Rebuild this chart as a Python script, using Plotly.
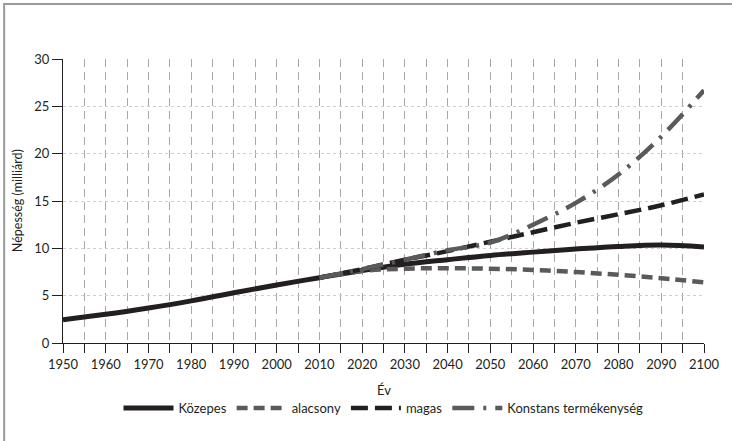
import plotly.graph_objects as go

hist_years = [1950, 1960, 1970, 1980, 1990, 2000, 2010]
proj_years = [2010, 2020, 2030, 2040, 2050, 2060, 2070, 2080, 2090, 2100]

kozepes_hist = [2.45, 3.03, 3.70, 4.45, 5.31, 6.12, 6.90]
kozepes = [6.90, 7.66, 8.32, 8.80, 9.25, 9.60, 9.92, 10.20, 10.35, 10.15]
alacsony = [6.90, 7.60, 7.85, 7.90, 7.85, 7.72, 7.50, 7.20, 6.85, 6.40]
magas = [6.90, 7.80, 8.80, 9.70, 10.70, 11.70, 12.70, 13.60, 14.55, 15.70]
konstans = [6.90, 7.80, 8.80, 9.80, 10.60, 12.50, 14.80, 17.80, 21.80, 26.70]

grid_years = list(range(1950, 2101, 5))
tick_text = [str(y) if y % 10 == 0 else "" for y in grid_years]

BLACK = "#231f20"
GRAY = "#5a5a5c"
FONT = "Lato"

fig = go.Figure()
fig.add_trace(go.Scatter(
    x=hist_years + proj_years[1:], y=kozepes_hist + kozepes[1:], name="Közepes",
    mode="lines", line=dict(color=BLACK, width=5, shape="spline"),
))
fig.add_trace(go.Scatter(
    x=proj_years, y=alacsony, name="alacsony", mode="lines",
    line=dict(color=GRAY, width=4.5, dash="11px,6px", shape="spline"),
))
fig.add_trace(go.Scatter(
    x=proj_years, y=magas, name="magas", mode="lines",
    line=dict(color=BLACK, width=4.5, dash="17px,7px", shape="spline"),
))
fig.add_trace(go.Scatter(
    x=proj_years, y=konstans, name="Konstans termékenység", mode="lines",
    line=dict(color=GRAY, width=4.5, dash="22px,9px,3px,9px", shape="spline"),
))

# frame round the figure (only top and left edges fall inside the picture)
fig.add_shape(type="rect", xref="paper", yref="paper", x0=-0.0918, x1=1.06,
              y0=-0.36, y1=1.1937, line=dict(color="#9a9a9a", width=2),
              fillcolor="rgba(0,0,0,0)", layer="above")

fig.add_annotation(xref="paper", yref="paper", x=0.5, y=-0.166, text="Év",
                   showarrow=False, yanchor="middle", font=dict(size=13, color=BLACK))
fig.add_annotation(xref="paper", yref="paper", x=-0.0715, y=0.5, text="Népesség (milliárd)",
                   showarrow=False, textangle=-90, xanchor="center", yanchor="middle",
                   font=dict(size=12.5, color=BLACK))

fig.update_xaxes(
    range=[1950, 2100], tickmode="array", tickvals=grid_years, ticktext=tick_text,
    ticks="outside", ticklen=9, tickcolor=BLACK, tickwidth=1,
    showline=True, linecolor=BLACK, linewidth=1.3,
    showgrid=True, gridcolor="#a8a8a8", gridwidth=1, griddash="8px,5px",
    zeroline=False, tickfont=dict(size=13, color=BLACK),
)
fig.update_yaxes(
    range=[0, 30], tickmode="array", tickvals=[0, 5, 10, 15, 20, 25, 30],
    ticks="outside", ticklen=10, tickcolor=BLACK, tickwidth=1,
    showline=True, linecolor=BLACK, linewidth=1.3,
    showgrid=True, gridcolor="#cfcfcf", gridwidth=1, griddash="3px,3px",
    zeroline=False, tickfont=dict(size=13, color=BLACK),
)
fig.update_layout(
    width=732, height=441,
    margin=dict(l=63, r=26, t=59, b=98),
    paper_bgcolor="white", plot_bgcolor="white",
    font=dict(family=FONT, color=BLACK),
    showlegend=True,
    legend=dict(orientation="h", x=0.5, xanchor="center", y=-0.229, yanchor="middle",
                font=dict(size=13, color=BLACK), itemwidth=50, tracegroupgap=0),
)
fig.write_html("out.html", config={"displayModeBar": False},
               post_script="document.body.style.margin = '0';")
